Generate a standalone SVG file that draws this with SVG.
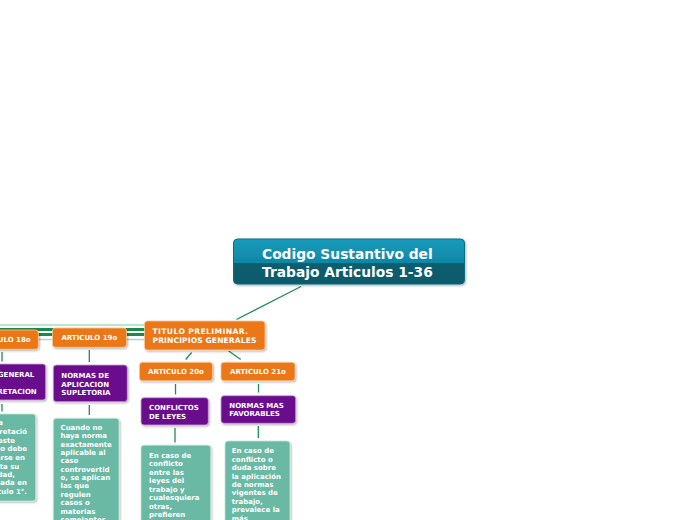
<svg xmlns="http://www.w3.org/2000/svg" width="696" height="520" viewBox="0 0 696 520">
<defs>
<linearGradient id="rootG" x1="0" y1="0" x2="0" y2="1">
<stop offset="0" stop-color="#1a9bbb"/>
<stop offset="0.54" stop-color="#0f87a6"/>
<stop offset="0.54" stop-color="#0a5e70"/>
<stop offset="1" stop-color="#0a5a6b"/>
</linearGradient>
<filter id="sh" x="-10%" y="-10%" width="130%" height="140%">
<feDropShadow dx="1" dy="1.2" stdDeviation="0.8" flood-color="#000" flood-opacity="0.3"/>
</filter>
</defs>
<style>
text{font-family:"DejaVu Sans",Verdana,sans-serif;font-weight:bold;fill:#fff;}
.t7{font-size:7px;}
.or{fill:#ec7713;stroke:#f7c9a0;stroke-width:0.8;filter:url(#sh);}
.pu{fill:#6b0b8d;stroke:#c9a6d6;stroke-width:0.8;filter:url(#sh);}
.te{fill:#6ab9a5;stroke:#c8e6de;stroke-width:0.8;filter:url(#sh);}
.c{stroke:#1f8f4e;stroke-width:1.3;fill:none;}
.cl{stroke:#a6dcbc;stroke-width:1.6;fill:none;}
.cd{stroke:#1a8a4a;stroke-width:3;fill:none;}
</style>
<rect width="696" height="520" fill="#fff"/>
<g id="connectors">
<line class="cl" x1="145" y1="325" x2="0" y2="325"/>
<line class="cd" x1="145" y1="329.5" x2="0" y2="329.5"/>
<line class="cd" x1="145" y1="334.5" x2="0" y2="334.5"/>
<line class="cl" x1="145" y1="339.5" x2="0" y2="339.5"/>
<line class="c" x1="301" y1="286.5" x2="236.5" y2="319.5"/>
<line class="c" x1="191.7" y1="352.5" x2="185.7" y2="359.5"/>
<line class="c" x1="228.7" y1="351" x2="240.7" y2="359.5"/>
<line class="c" x1="175.5" y1="384" x2="175.5" y2="394.5"/>
<line class="c" x1="258.5" y1="384" x2="258.5" y2="392.5"/>
<line class="c" x1="175" y1="428" x2="175" y2="442.5"/>
<line class="c" x1="258.3" y1="426" x2="258.3" y2="438"/>
<line class="c" x1="89.3" y1="350" x2="89.3" y2="362"/>
<line class="c" x1="89.3" y1="405" x2="89.3" y2="415"/>
<line class="c" x1="2" y1="352" x2="2" y2="361.5"/>
<line class="c" x1="2" y1="404" x2="2" y2="411.5"/>
</g>
<g id="root">
<rect x="233.5" y="239" width="231" height="45" rx="4" fill="url(#rootG)" stroke="#0c6d84" stroke-width="1" filter="url(#sh)"/>
<text x="262" y="259" style="font-size:13.8px">Codigo Sustantivo del</text>
<text x="262" y="277" style="font-size:13.8px">Trabajo Articulos 1-36</text>
</g>
<g id="titulo">
<rect class="or" x="144.5" y="321" width="120.5" height="29" rx="3"/>
<text x="152.5" y="333.6" style="font-size:7.6px" textLength="95.5" lengthAdjust="spacing">TITULO PRELIMINAR.</text>
<text x="152.5" y="343" style="font-size:7.6px" textLength="104" lengthAdjust="spacing">PRINCIPIOS GENERALES</text>
</g>
<g id="art20">
<rect class="or" x="139.5" y="362.3" width="73" height="18.5" rx="3"/>
<text class="t7" x="176" y="373.8" text-anchor="middle">ARTICULO 20o</text>
</g>
<g id="art21">
<rect class="or" x="221" y="362.3" width="74" height="18.5" rx="3"/>
<text class="t7" x="258" y="373.8" text-anchor="middle">ARTICULO 21o</text>
</g>
<g id="conflictos">
<rect class="pu" x="141" y="397.7" width="67.3" height="27.3" rx="3"/>
<text class="t7" x="149" y="410.2">CONFLICTOS</text>
<text class="t7" x="149" y="418.6">DE LEYES</text>
</g>
<g id="favorables">
<rect class="pu" x="221" y="395.7" width="74.7" height="27.6" rx="3"/>
<text class="t7" x="229.3" y="408.2">NORMAS MAS</text>
<text class="t7" x="229.3" y="416">FAVORABLES</text>
</g>
<g id="texto20">
<rect class="te" x="141" y="445.2" width="69.7" height="90" rx="3"/>
<text class="t7" x="149" y="457.5">En caso de</text>
<text class="t7" x="149" y="466">conflicto</text>
<text class="t7" x="149" y="474.5">entre las</text>
<text class="t7" x="149" y="483">leyes del</text>
<text class="t7" x="149" y="491.5">trabajo y</text>
<text class="t7" x="149" y="500">cualesquiera</text>
<text class="t7" x="149" y="508.5">otras,</text>
<text class="t7" x="149" y="517">prefieren</text>
</g>
<g id="texto21">
<rect class="te" x="225" y="441" width="65" height="95" rx="3"/>
<text class="t7" x="231.7" y="453.2">En caso de</text>
<text class="t7" x="231.7" y="461.6">conflicto o</text>
<text class="t7" x="231.7" y="470.1">duda sobre</text>
<text class="t7" x="231.7" y="478.5">la aplicación</text>
<text class="t7" x="231.7" y="487">de normas</text>
<text class="t7" x="231.7" y="495.4">vigentes de</text>
<text class="t7" x="231.7" y="503.9">trabajo,</text>
<text class="t7" x="231.7" y="512.3">prevalece la</text>
<text class="t7" x="231.7" y="520.8">más</text>
</g>
<g id="art19">
<rect class="or" x="52.5" y="328" width="74" height="19.3" rx="3"/>
<text class="t7" x="89.3" y="340.3" text-anchor="middle">ARTICULO 19o</text>
</g>
<g id="supletoria">
<rect class="pu" x="53.3" y="365" width="74" height="36.7" rx="3"/>
<text class="t7" x="61.3" y="378.2">NORMAS DE</text>
<text class="t7" x="61.3" y="386.8">APLICACION</text>
<text class="t7" x="61.3" y="395.4">SUPLETORIA</text>
</g>
<g id="texto19">
<rect class="te" x="53.3" y="418.3" width="65.7" height="110" rx="3"/>
<text class="t7" x="60.5" y="429.8">Cuando no</text>
<text class="t7" x="60.5" y="438.2">haya norma</text>
<text class="t7" x="60.5" y="446.5">exactamente</text>
<text class="t7" x="60.5" y="454.9">aplicable al</text>
<text class="t7" x="60.5" y="463.3">caso</text>
<text class="t7" x="60.5" y="471.7">controvertid</text>
<text class="t7" x="60.5" y="480">o, se aplican</text>
<text class="t7" x="60.5" y="488.4">las que</text>
<text class="t7" x="60.5" y="496.8">regulen</text>
<text class="t7" x="60.5" y="505.2">casos o</text>
<text class="t7" x="60.5" y="513.5">materias</text>
<text class="t7" x="60.5" y="521.9">semejantes,</text>
</g>
<g id="art18">
<rect class="or" x="-36" y="330" width="74.3" height="19.3" rx="3"/>
<text class="t7" x="2.7" y="341.8" text-anchor="middle">ARTICULO 18o</text>
</g>
<g id="interpretacion">
<rect class="pu" x="-45" y="364" width="90.7" height="36" rx="3"/>
<text class="t7" x="34.3" y="376.8" text-anchor="end">NORMA GENERAL</text>
<text class="t7" x="36.7" y="394.2" text-anchor="end">INTERPRETACION</text>
</g>
<g id="texto18">
<rect class="te" x="-40" y="414" width="75.7" height="87" rx="3"/>
<text class="t7" x="3" y="425.2" text-anchor="end">Para la</text>
<text class="t7" x="27" y="434.2" text-anchor="end">interpretació</text>
<text class="t7" x="15" y="442.5" text-anchor="end">n de este</text>
<text class="t7" x="27" y="450.8" text-anchor="end">Código debe</text>
<text class="t7" x="25" y="459.8" text-anchor="end">tomarse en</text>
<text class="t7" x="19.3" y="468.5" text-anchor="end">cuenta su</text>
<text class="t7" x="15" y="476.5" text-anchor="end">finalidad,</text>
<text class="t7" x="27" y="485.2" text-anchor="end">expresada en</text>
<text class="t7" x="27" y="494.2" text-anchor="end">artículo 1°.</text>
</g>
</svg>
